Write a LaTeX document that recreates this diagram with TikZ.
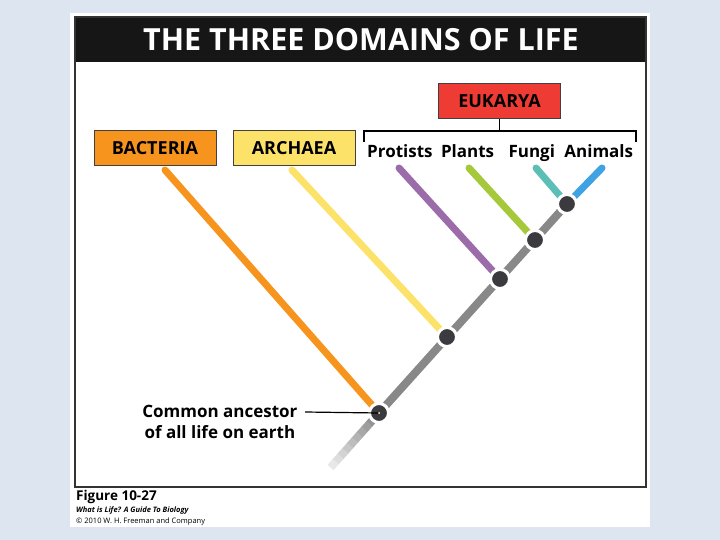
\documentclass[tikz,border=0pt]{standalone}
\usepackage{fontspec}
\setmainfont{Open Sans}
\usepackage{tikz}
\usetikzlibrary{positioning,calc}
\definecolor{slidebg}{HTML}{DCE5F0}
\definecolor{titlebar}{HTML}{161616}
\definecolor{bactorange}{HTML}{F7941D}
\definecolor{archyellow}{HTML}{FDE26A}
\definecolor{eukred}{HTML}{EE3B33}
\definecolor{protpurple}{HTML}{9B6BAA}
\definecolor{plantgreen}{HTML}{A5C93A}
\definecolor{fungiteal}{HTML}{5BBFB5}
\definecolor{animalblue}{HTML}{3FA2E3}
\definecolor{trunkgrey}{HTML}{888888}
\definecolor{splitdark}{HTML}{3A3A3F}

\begin{document}
\begin{tikzpicture}[x=1pt,y=-1pt,
  domainbox/.style={draw=black!75,line width=1pt,minimum width=122pt,minimum height=35pt,
                 inner sep=0pt,font=\fontsize{18}{18}\selectfont\bfseries},
  taxon/.style={inner sep=0pt,font=\fontsize{17}{17}\selectfont\bfseries},
  branch/.style={line width=7pt,line cap=round},
  split/.style={circle,fill=splitdark,draw=white,line width=3pt,minimum size=19pt,inner sep=0pt}]
  \useasboundingbox (0,0) rectangle (720,540);
  % Slide and page
  \fill[slidebg] (0,0) rectangle (720,540);
  \fill[white] (70,13) rectangle (650,527);
  \fill[titlebar] (75,17) rectangle (646,62);
  \draw[black!80,line width=1.5pt] (75,17) rectangle (646,487);
  \node[white,font=\fontsize{30.5}{30.5}\selectfont\bfseries] (title) at (361,40) {THE THREE DOMAINS OF LIFE};
  % Domains
  \node[domainbox,fill=bactorange] (bact) at (155,148.5) {BACTERIA};
  \node[domainbox,fill=archyellow,right=16pt of bact] (arch) {ARCHAEA};
  \node[domainbox,fill=eukred] (euk) at (499.5,101.5) {EUKARYA};
  % Eukarya groups
  \node[taxon,anchor=base west] (prot) at (367,158) {Protists};
  \node[taxon,base right=8pt of prot] (plant) {Plants};
  \node[taxon,base right=14pt of plant] (fungi) {Fungi};
  \node[taxon,base right=9pt of fungi] (anim) {Animals};
  \draw[line width=1.5pt] (euk.south) -- (499.5,131);
  \draw[line width=1.5pt] (364,142) -- (364,131) -- (636,131) -- (636,142);
  % Tree splits
  \coordinate (n0) at (379,413);
  \coordinate (n1) at (447,337);
  \coordinate (n2) at (500,279);
  \coordinate (n3) at (535,240);
  \coordinate (n4) at (567,204);
  % Branch tips
  \coordinate (tB) at (165,170);
  \coordinate (tA) at (292,170);
  \coordinate (tP) at (399,168);
  \coordinate (tL) at (469,168);
  \coordinate (tF) at (536,168);
  \coordinate (tN) at (602,168);
  % Trunk, fading out at the root
  \draw[trunkgrey,line width=8pt] (n0) -- (n4);
  \foreach \i in {0,...,9} {
    \pgfmathsetmacro{\shade}{100-9*\i}
    \draw[trunkgrey!\shade!white,line width=8pt]
      ($(n0)!\i/10!(331,467)$) -- ($(n0)!\i/10+0.11!(331,467)$);
  }
  % Branches
  \draw[branch,bactorange] (tB) -- (n0);
  \draw[branch,archyellow] (tA) -- (n1);
  \draw[branch,protpurple] (tP) -- (n2);
  \draw[branch,plantgreen] (tL) -- (n3);
  \draw[branch,fungiteal] (tF) -- (n4);
  \draw[branch,animalblue] (tN) -- (n4);
  \foreach \n in {n0,n1,n2,n3,n4}
    \node[split] (s\n) at (\n) {};
  % Ancestor label
  \node[align=center,anchor=east,font=\fontsize{17}{21}\selectfont\bfseries] (anc) at (301,422)
    {Common ancestor\\of all life on earth};
  \coordinate (ancl) at (305,412);
  \draw[line width=1.2pt] (ancl) -- (sn0.center);
  \fill[white] (sn0.center) circle (1pt);
  % Caption
  \node[anchor=north west,inner sep=0pt,font=\fontsize{13.5}{13.5}\selectfont\bfseries] (fig) at (76,490) {Figure 10-27};
  \node[inner sep=0pt,font=\fontsize{7.5}{8}\selectfont\bfseries\itshape,below=3pt of fig.south west,anchor=north west] (book) {What is Life? A Guide To Biology};
  \node[inner sep=0pt,font=\fontsize{7.5}{8}\selectfont,below=3pt of book.south west,anchor=north west] (copy) {© 2010 W. H. Freeman and Company};
\end{tikzpicture}
\end{document}
